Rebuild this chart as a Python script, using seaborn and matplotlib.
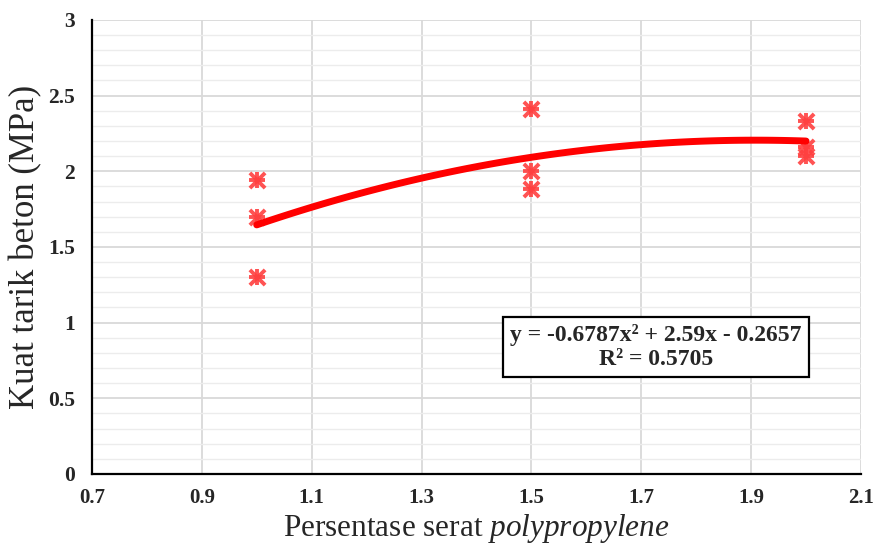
import numpy as np
import pandas as pd
import matplotlib
matplotlib.use("Agg")
import matplotlib.pyplot as plt
import seaborn as sns

# data
serat = [1.0, 1.0, 1.0, 1.5, 1.5, 1.5, 2.0, 2.0, 2.0]
kuat_tarik = [1.94, 1.70, 1.30, 2.41, 2.00, 1.88, 2.33, 2.16, 2.10]
coef = [-0.6787, 2.59, -0.2657]  # trendline shown on the chart
r2 = 0.5705
x_ticks = [0.7, 0.9, 1.1, 1.3, 1.5, 1.7, 1.9, 2.1]
y_ticks = [0, 0.5, 1, 1.5, 2, 2.5, 3]

df = pd.DataFrame({"serat": serat, "kuat": kuat_tarik})
x_fit = np.linspace(min(serat), max(serat), 100)
fit = pd.DataFrame({"serat": x_fit, "kuat": np.polyval(coef, x_fit)})

sns.set_style("white")
plt.rcParams["font.family"] = ["Liberation Serif", "DejaVu Serif"]
plt.rcParams["mathtext.fontset"] = "custom"
plt.rcParams["mathtext.rm"] = "Liberation Serif"
plt.rcParams["mathtext.it"] = "Liberation Serif:italic"

fig = plt.figure(figsize=(8.75, 5.53), dpi=100)
ax = fig.add_axes([0.105, 0.143, 0.879, 0.821])

red = "#ff4040"
for mk in ["+", "x"]:
    sns.scatterplot(data=df, x="serat", y="kuat", marker=mk, s=120, color=red,
                    linewidth=2.8, alpha=0.9, ax=ax, zorder=3)
sns.lineplot(data=fit, x="serat", y="kuat", color="#ff0000", linewidth=5,
             solid_capstyle="round", ax=ax, zorder=4)

ax.set_xlim(0.7, 2.1)
ax.set_ylim(0, 3)
ax.set_xticks(x_ticks)
ax.set_yticks(y_ticks)
ax.set_yticks(np.arange(0, 3.01, 0.1), minor=True)
ax.set_xticklabels([f"{v:g}" for v in x_ticks], fontweight="bold", fontsize=15)
ax.set_yticklabels([f"{v:g}" for v in y_ticks], fontweight="bold", fontsize=15.5)
ax.grid(True, which="major", color="#d9d9d9", linewidth=1.3)
ax.grid(True, which="minor", axis="y", color="#ececec", linewidth=1)
ax.set_axisbelow(True)
ax.tick_params(axis="x", length=0, pad=10)
ax.tick_params(axis="y", length=0, pad=12)
ax.tick_params(which="minor", length=0)

for s in ["top", "right"]:
    ax.spines[s].set_visible(False)
for s in ["left", "bottom"]:
    ax.spines[s].set_color("black")
    ax.spines[s].set_linewidth(1.6)

ax.set_xlabel("Persentase serat $\\it{polypropylene}$", fontsize=22.5, labelpad=3)
ax.set_ylabel("Kuat tarik beton (MPa)", fontsize=25, labelpad=4)

eq = f"y = {coef[0]:.4f}x² + {coef[1]:.2f}x - {abs(coef[2]):.4f}\nR² = {r2:.4f}"
ax.text(1.727, 0.84, eq, ha="center", va="center", fontsize=17,
        fontweight="bold", linespacing=1.2,
        bbox=dict(boxstyle="square,pad=0.3", facecolor="white",
                  edgecolor="black", linewidth=1.6))

fig.savefig("out.png", dpi=100)
